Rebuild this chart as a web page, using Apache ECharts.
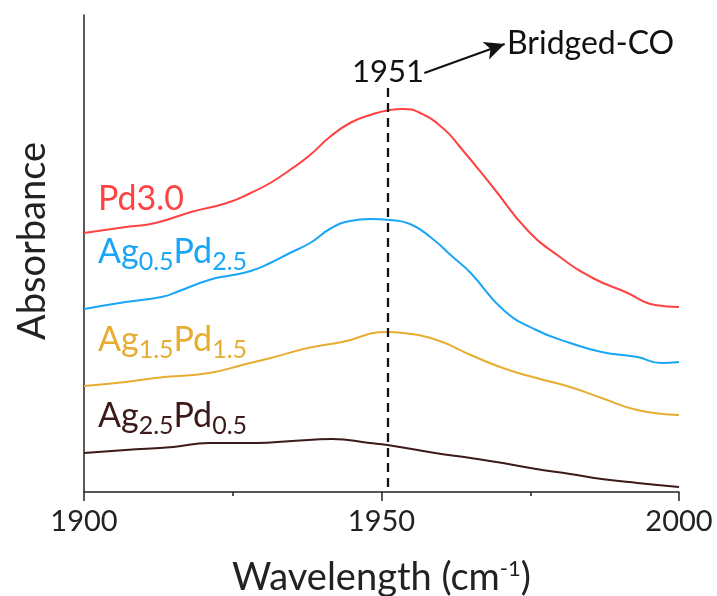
<!DOCTYPE html>
<html><head><meta charset="utf-8">
<script src="https://cdn.jsdelivr.net/npm/echarts@6/dist/echarts.min.js"></script>
<style>html,body{margin:0;padding:0;background:#fff}#c{width:717px;height:596px}</style>
</head><body><div id="c"></div>
<script>
// x: wavenumber (cm-1), y: absorbance (arbitrary units, offset traces)
const xTickLabels = [1900, 1950, 2000];
const seriesNames = ['Pd3.0', 'Ag0.5Pd2.5', 'Ag1.5Pd1.5', 'Ag2.5Pd0.5'];
const pd30 = [[1900,2.59],[1907,2.65],[1912,2.69],[1918,2.80],[1924,2.89],[1928,2.99],[1931.3,3.09],[1934.6,3.22],[1938,3.37],[1941.3,3.55],[1944.7,3.69],[1948.1,3.77],[1951.4,3.82],[1953.6,3.83],[1956.5,3.79],[1960.3,3.64],[1963.2,3.45],[1968.7,3.05],[1974.5,2.62],[1980,2.35],[1985.5,2.14],[1991,2.00],[1996,1.87],[2000,1.85]];
const ag05pd25 = [[1900,1.83],[1907,1.90],[1913,1.95],[1916,2.01],[1921,2.12],[1925,2.17],[1928,2.21],[1931.3,2.29],[1934.6,2.39],[1938,2.49],[1941.3,2.63],[1944.7,2.71],[1948.1,2.73],[1951.4,2.72],[1954.8,2.68],[1958.2,2.55],[1962,2.35],[1965,2.19],[1970.5,1.82],[1976,1.62],[1981.7,1.49],[1987,1.40],[1993,1.35],[1997,1.29],[2000,1.30]];
const ag15pd15 = [[1900,1.06],[1907,1.10],[1912,1.14],[1921,1.19],[1926.6,1.27],[1932,1.35],[1937.6,1.44],[1943.4,1.50],[1950.9,1.60],[1953.6,1.59],[1959.3,1.52],[1965,1.37],[1970.4,1.24],[1976,1.14],[1981.7,1.05],[1987,0.94],[1993,0.82],[2000,0.77]];
const ag25pd05 = [[1900,0.39],[1907,0.42],[1915,0.45],[1921,0.49],[1929,0.49],[1935,0.51],[1941.7,0.53],[1948,0.49],[1951,0.47],[1959,0.39],[1965,0.34],[1970.4,0.29],[1976,0.23],[1981.7,0.18],[1987,0.13],[1993,0.09],[2000,0.05]];
const peakPosition = 1951;
const colors = ['#ff4242', '#1aa6f6', '#e6ad31', '#3c1a1a'];

const FONT = 'Lato';
const chart = echarts.init(document.getElementById('c'), null, {renderer:'canvas'});
function line(name, data, color){
  return {name, type:'line', data, smooth:0.5, showSymbol:false, silent:true,
    lineStyle:{color, width:2}, itemStyle:{color}, animation:false};
}
const subRich = (color)=>({
  s:{fontSize:25, fontFamily:FONT, fill:color, padding:[19,0,0,0]},
  b:{fontSize:34, fontFamily:FONT, fill:color}
});
chart.setOption({
  animation:false,
  grid:{left:84, right:38, top:15, bottom:104, outerBoundsMode:'none', containLabel:false},
  xAxis:{type:'value', min:1900, max:2000, interval:50,
    axisLine:{lineStyle:{color:'#222', width:1.5}},
    axisTick:{show:true, length:9, inside:false, lineStyle:{color:'#222', width:1.5}},
    minorTick:{show:true, splitNumber:2, length:4, lineStyle:{color:'#222', width:1.5}},
    splitLine:{show:false},
    axisLabel:{fontSize:29, color:'#222', fontFamily:FONT, margin:15,
      formatter:(v)=> xTickLabels.includes(v) ? String(v) : ''},
    name:'{b|Wavelength (cm}{sup|-1}{b|)}', nameLocation:'middle', nameGap:66,
    nameTextStyle:{fontSize:38, color:'#222', fontFamily:FONT,
      rich:{b:{fontSize:38, color:'#222', fontFamily:FONT}, sup:{fontSize:22, color:'#222', fontFamily:FONT, padding:[0,0,18,0]}}}
  },
  yAxis:{type:'value', min:0, max:4.77,
    axisLine:{show:true, lineStyle:{color:'#222', width:1.5}},
    axisTick:{show:false}, axisLabel:{show:false}, splitLine:{show:false}
  },
  series:[
    line(seriesNames[0], pd30, colors[0]),
    line(seriesNames[1], ag05pd25, colors[1]),
    line(seriesNames[2], ag15pd15, colors[2]),
    line(seriesNames[3], ag25pd05, colors[3]),
    {type:'line', data:[], silent:true,
      markLine:{silent:true, animation:false, symbol:['none','none'], label:{show:false},
        data:[
          [{coord:[peakPosition, 4.04], lineStyle:{type:[9,6], width:2.3, color:'#111'}}, {coord:[peakPosition, 0]}],
          [{coord:[1957.2, 4.19], symbol:'none', lineStyle:{type:'solid', width:2, color:'#111'}},
           {coord:[1970.7, 4.48], symbol:'arrow', symbolSize:[14,20]}]
        ]}}
  ],
  graphic:[
    {type:'text', x:33, y:241, rotation:Math.PI/2, style:{text:'Absorbance', fontSize:38, fontFamily:FONT, fill:'#222', align:'center', verticalAlign:'middle'}},
    {type:'text', left:98, top:182, style:{text:'Pd3.0', fontSize:34, fontFamily:FONT, fill:colors[0]}},
    {type:'text', left:98, top:235, style:{text:'{b|Ag}{s|0.5}{b|Pd}{s|2.5}', rich:subRich(colors[1])}},
    {type:'text', left:98, top:323, style:{text:'{b|Ag}{s|1.5}{b|Pd}{s|1.5}', rich:subRich(colors[2])}},
    {type:'text', left:98, top:399, style:{text:'{b|Ag}{s|2.5}{b|Pd}{s|0.5}', rich:subRich(colors[3])}},
    {type:'text', x:388, y:72, style:{text:String(peakPosition), fontSize:31, fontFamily:FONT, fill:'#111', align:'center', verticalAlign:'middle'}},
    {type:'text', x:507, y:44, style:{text:'Bridged-CO', fontSize:32, fontFamily:FONT, fill:'#111', align:'left', verticalAlign:'middle'}}
  ]
});
</script></body></html>
